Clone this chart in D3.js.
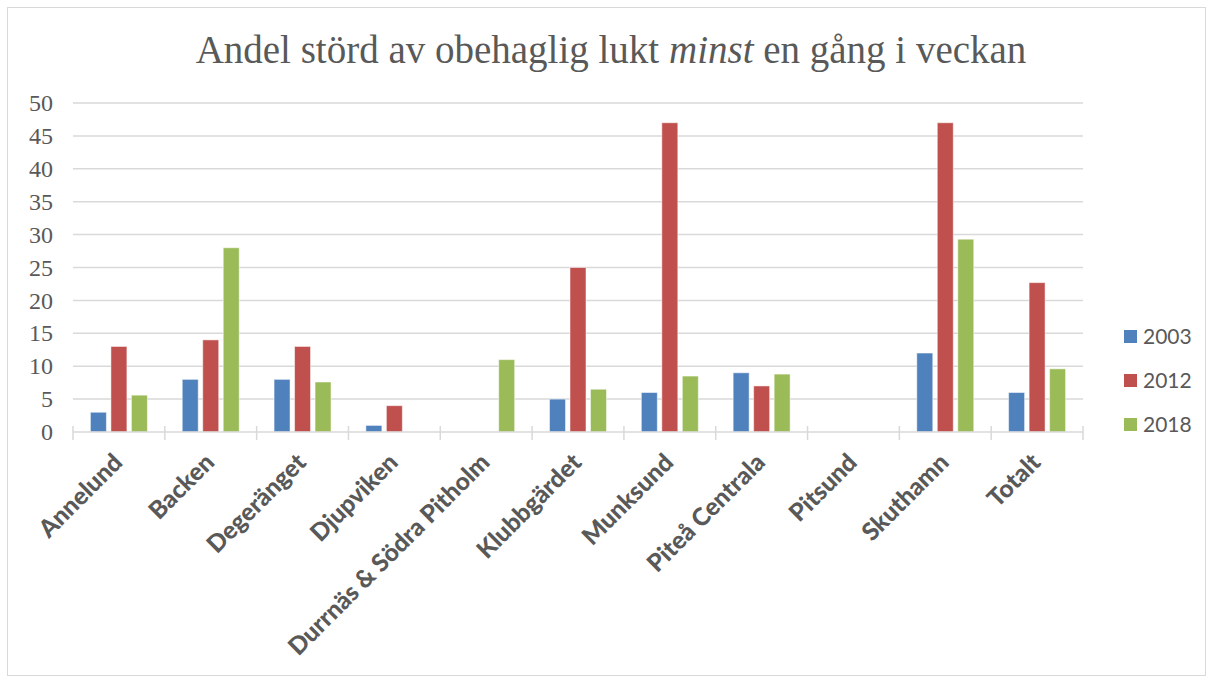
<!DOCTYPE html>
<html>
<head>
<meta charset="utf-8">
<script src="https://cdn.jsdelivr.net/npm/d3@7"></script>
<style>
  body { margin: 0; background: #fff; }
  svg { display: block; }
</style>
</head>
<body>
<div id="chart"></div>
<script>
const categories = ["Annelund", "Backen", "Degeränget", "Djupviken", "Durrnäs & Södra Pitholm",
  "Klubbgärdet", "Munksund", "Piteå Centrala", "Pitsund", "Skuthamn", "Totalt"];
const series = ["2003", "2012", "2018"];
const v2003 = [3, 8, 8, 1, null, 5, 6, 9, null, 12, 6];
const v2012 = [13, 14, 13, 4, null, 25, 47, 7, null, 47, 22.7];
const v2018 = [5.6, 28, 7.6, null, 11, 6.5, 8.5, 8.8, null, 29.3, 9.6];
const yTicks = [0, 5, 10, 15, 20, 25, 30, 35, 40, 45, 50];
const COLORS = ["#4f81bd", "#c0504d", "#9bbb59"];

const width = 1213;
const height = 683;
const margin = { top: 103, right: 130, bottom: 251, left: 73 };

const values = [v2003, v2012, v2018];

const svg = d3.select("#chart")
  .append("svg")
  .attr("width", width)
  .attr("height", height);

// outer frame
svg.append("rect")
  .attr("x", 7.5).attr("y", 7.5)
  .attr("width", 1198).attr("height", 668)
  .attr("fill", "#fff")
  .attr("stroke", "#d9d9d9");

svg.append("text")
  .attr("x", 611)
  .attr("y", 63)
  .attr("text-anchor", "middle")
  .attr("font-family", "Liberation Serif, serif")
  .attr("font-size", 39)
  .attr("fill", "#595959")
  .call((t) => {
    t.append("tspan").text("Andel störd av obehaglig lukt ");
    t.append("tspan").attr("font-style", "italic").text("minst");
    t.append("tspan").text(" en gång i veckan");
  });

const x0 = d3.scaleBand()
  .domain(categories)
  .range([margin.left, width - margin.right])
  .padding(0);

const x1 = d3.scaleBand()
  .domain(series)
  .range([0, x0.bandwidth()])
  .paddingInner(0.22)
  .paddingOuter(0.85);

const y = d3.scaleLinear()
  .domain([0, 50])
  .range([height - margin.bottom, margin.top]);

// gridlines
svg.append("g")
  .selectAll("line")
  .data(yTicks.slice(1))
  .join("line")
  .attr("x1", margin.left)
  .attr("x2", width - margin.right)
  .attr("y1", (d) => y(d))
  .attr("y2", (d) => y(d))
  .attr("stroke", "#d9d9d9")
  .attr("stroke-width", 1.5);

// y labels
const yAxis = svg.append("g")
  .attr("transform", `translate(${margin.left - 20},0)`)
  .call(d3.axisLeft(y).tickValues(yTicks).tickSize(0).tickPadding(0));
yAxis.select(".domain").remove();
yAxis.selectAll("text")
  .attr("font-family", "Liberation Serif, serif")
  .attr("font-size", 24)
  .attr("fill", "#595959");

// bars
series.forEach((s, si) => {
  svg.append("g")
    .selectAll("rect")
    .data(categories.map((c, i) => ({ c, v: values[si][i] })).filter((d) => d.v != null))
    .join("rect")
    .attr("x", (d) => x0(d.c) + x1(s))
    .attr("y", (d) => y(d.v))
    .attr("width", x1.bandwidth())
    .attr("height", (d) => y(0) - y(d.v))
    .attr("fill", COLORS[si])
    .attr("stroke", "#fff")
    .attr("stroke-opacity", 0.5)
    .attr("stroke-width", 1);
});

// x axis line and ticks
const base = y(0);
svg.append("line")
  .attr("x1", margin.left).attr("x2", width - margin.right)
  .attr("y1", base).attr("y2", base)
  .attr("stroke", "#d9d9d9").attr("stroke-width", 1.5);

const tickPos = categories.map((c) => x0(c)).concat([x0.range()[1]]);
svg.append("g")
  .selectAll("line")
  .data(tickPos)
  .join("line")
  .attr("x1", (d) => d).attr("x2", (d) => d)
  .attr("y1", base - 6).attr("y2", base + 8)
  .attr("stroke", "#d9d9d9").attr("stroke-width", 1.5);

// x labels
svg.append("g")
  .selectAll("text")
  .data(categories)
  .join("text")
  .attr("transform", (d) => `translate(${x0(d) + x0.bandwidth() / 2 + 5},${base + 32}) rotate(-45)`)
  .attr("text-anchor", "end")
  .attr("font-family", "Lato, sans-serif")
  .attr("font-weight", 900)
  .attr("font-size", 24.5)
  .attr("fill", "#595959")
  .text((d) => d);

// legend
const legend = svg.append("g")
  .selectAll("g")
  .data(series)
  .join("g")
  .attr("transform", (d, i) => `translate(1124,${330 + i * 44})`);
legend.append("rect")
  .attr("width", 13).attr("height", 13)
  .attr("fill", (d, i) => COLORS[i]);
legend.append("text")
  .attr("x", 19)
  .attr("y", 13.5)
  .attr("font-family", "Lato, sans-serif")
  .attr("font-size", 21)
  .attr("fill", "#595959")
  .text((d) => d);
</script>
</body>
</html>
